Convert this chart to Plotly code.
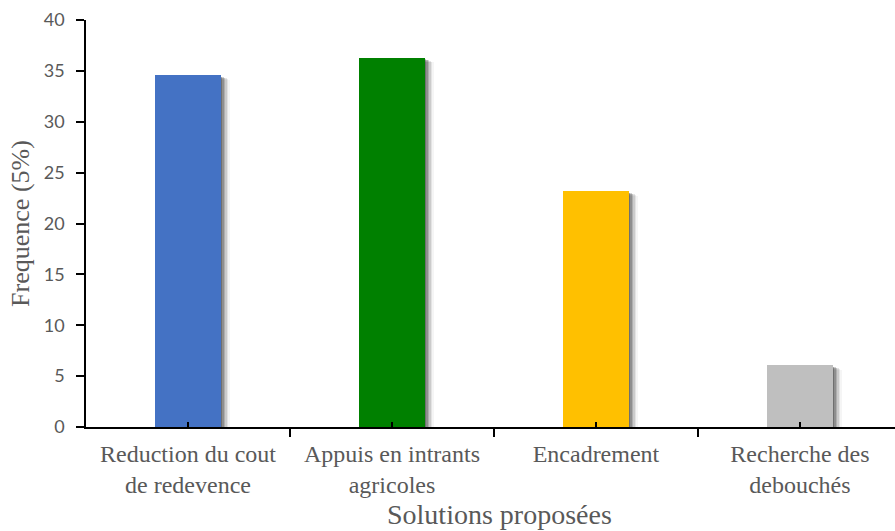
import plotly.graph_objects as go

# Survey results: proposed solutions and their frequency
categories = ["Reduction du cout<br>de redevence", "Appuis en intrants<br>agricoles",
              "Encadrement", "Recherche des<br>debouchés"]
values = [34.6, 36.3, 23.2, 6.1]
colors = ["#4472C4", "#008000", "#FFC000", "#BFBFBF"]
y_ticks = [0, 5, 10, 15, 20, 25, 30, 35, 40]

W, H = 895, 531
L, R, T, B = 86, 0, 20, 104
x_range = [-0.5, 3.466]
y_range = [0, 40]
px_x = (W - L - R) / (x_range[1] - x_range[0])   # pixels per x unit
px_y = (H - T - B) / (y_range[1] - y_range[0])   # pixels per y unit

xs = list(range(len(categories)))
bar_w = 0.32

fig = go.Figure()

# soft drop shadow to the right of each bar
for k, op in zip([1.5, 3, 4.5, 6, 7.5, 9], [0.22, 0.18, 0.14, 0.10, 0.07, 0.04]):
    fig.add_trace(go.Bar(
        x=[x + k / px_x for x in xs],
        y=[v - (1 + k * 0.4) / px_y for v in values],
        width=bar_w,
        marker=dict(color=f"rgba(0,0,0,{op})", line=dict(width=0)),
        hoverinfo="skip", showlegend=False,
    ))

fig.add_trace(go.Bar(
    x=xs, y=values, width=bar_w,
    marker=dict(color=colors, line=dict(width=0)),
    showlegend=False,
))

# x-axis title, centred under the category labels
fig.add_annotation(
    text="Solutions proposées", xref="x", yref="paper",
    x=1.525, y=0, yshift=-70, yanchor="top", showarrow=False,
    font=dict(family="Liberation Serif", size=28, color="#595959"),
)

fig.update_layout(
    width=W, height=H,
    margin=dict(l=L, r=R, t=T, b=B, autoexpand=False),
    paper_bgcolor="white", plot_bgcolor="white",
    barmode="overlay", bargap=0,
    xaxis=dict(
        range=x_range, tickmode="array", tickvals=xs, ticktext=categories,
        showline=True, linecolor="black", linewidth=1.5,
        ticks="inside", ticklen=5, tickwidth=1.5, tickcolor="black",
        minor=dict(ticks="outside", tickvals=[-0.5, 0.5, 1.5, 2.5, 3.5],
                   ticklen=8, tickwidth=1.5, tickcolor="black"),
        showgrid=False, zeroline=False,
        tickfont=dict(family="Liberation Serif", size=24, color="#595959"),
        ticklabelstandoff=4,
        automargin=False,
    ),
    yaxis=dict(
        range=y_range, tickvals=y_ticks,
        showline=True, linecolor="black", linewidth=1.5,
        ticks="outside", ticklen=8, tickwidth=1.5, tickcolor="black",
        showgrid=False, zeroline=False,
        tickfont=dict(family="Lato", size=18, color="#595959"),
        ticklabelstandoff=8,
        title=dict(text="Frequence (5%)", standoff=7,
                   font=dict(family="Liberation Serif", size=26, color="#595959")),
        automargin=False,
    ),
)

fig.write_html("out.html")
